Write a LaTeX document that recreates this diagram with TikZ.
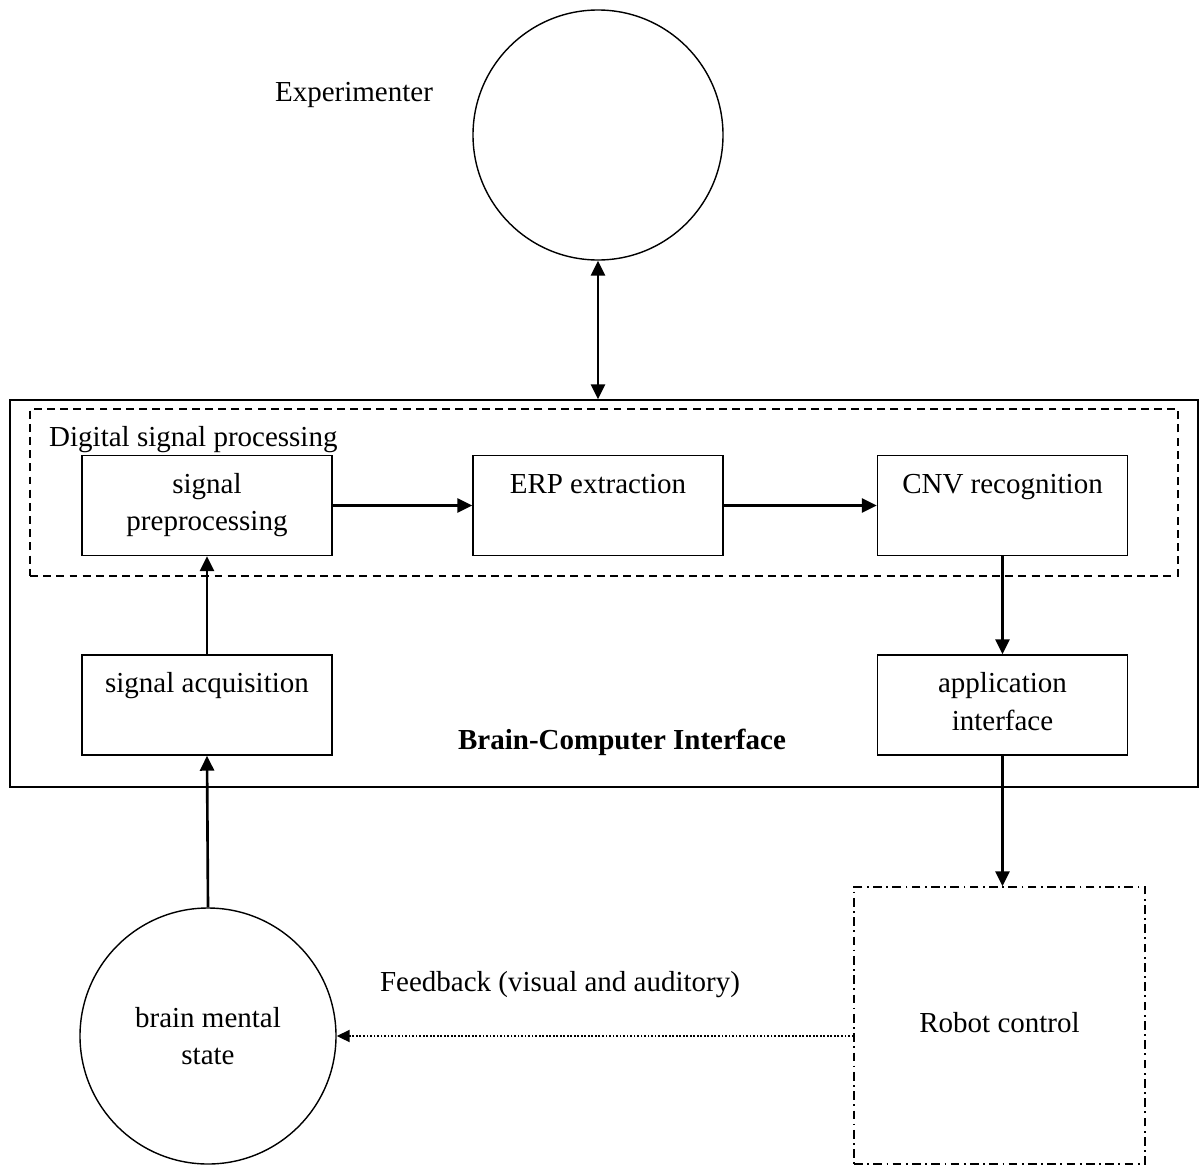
\documentclass[tikz,border=0pt]{standalone}
\usepackage{fontspec}
\setmainfont{Liberation Serif}
\usetikzlibrary{arrows.meta}

% text placed at the top of a block
\newcommand{\toptext}[1]{\parbox[c][2cm][t]{5cm}{\centering\rule{0pt}{0.75cm}#1}}

\begin{document}
\begin{tikzpicture}[>={Triangle[length=0.3cm,width=0.28cm]}, line cap=butt, line join=miter]

% --- Global TikZ Styles for Consistency ---
\tikzset{
    every node/.style={
        font=\fontsize{16.5}{21.5}\selectfont
    },
    block/.style={
        draw=black,
        line width=0.8pt,
        inner sep=0pt,
        minimum width=5cm,
        minimum height=2cm
    },
    bigcircle/.style={
        draw=black,
        circle,
        line width=0.8pt,
        align=center
    },
    flow/.style={
        ->,
        line width=1.5pt
    },
    feedback/.style={
        -{Triangle[length=0.26cm,width=0.24cm]},
        line width=1.1pt,
        dash pattern=on 1pt off 1pt
    }
}

\useasboundingbox (0,0) rectangle (24.02,-23.32);

% =========================================================================
% --- Experimenter ---
% =========================================================================
\node[bigcircle, minimum size=5cm] (expr) at (11.96,-2.7) {};
\node (exprlabel) at (7.08,-1.9) {Experimenter};

% =========================================================================
% --- Brain-Computer Interface ---
% =========================================================================
\node[draw, line width=0.8pt, minimum width=23.76cm, minimum height=7.74cm] (bci) at (12.08,-11.87) {};
\node[draw, line width=0.8pt, dash pattern=on 4.5pt off 3pt, minimum width=22.96cm, minimum height=3.34cm] (dsp) at (12.08,-9.85) {};
\node[anchor=west] (dsplabel) at (0.86,-8.8) {Digital signal processing};

% --- Blocks ---
\node[block] (preproc) at (4.14,-10.11) {\toptext{signal\\preprocessing}};
\node[block] (erp) at (11.96,-10.11) {\toptext{ERP extraction}};
\node[block] (cnv) at (20.05,-10.11) {\toptext{CNV recognition}};
\node[block] (acq) at (4.14,-14.1) {\toptext{signal acquisition}};
\node[block] (app) at (20.05,-14.1) {\toptext{application\\interface}};

\node[font=\fontsize{16.5}{21.5}\selectfont\bfseries] (bcilabel) at (12.44,-14.84) {Brain-Computer Interface};

% =========================================================================
% --- Outside the interface ---
% =========================================================================
\node[bigcircle, minimum size=5.12cm] (brain) at (4.16,-20.72) {brain mental\\state};
\node[draw, line width=0.8pt, dash pattern=on 5pt off 2.5pt on 1pt off 2.5pt, minimum width=5.82cm, minimum height=5.54cm] (robot) at (19.99,-20.51) {\raisebox{0.14cm}{Robot control}};
\node (fblabel) at (11.2,-19.7) {Feedback (visual and auditory)};

% --- Arrows ---
\draw[flow, <->] (expr.south) -- (expr.south |- bci.north);
\draw[flow] (preproc.east) -- (erp.west);
\draw[flow] (erp.east) -- (cnv.west);
\draw[flow] (cnv.south) -- (app.north);
\draw[flow] (acq.north) -- (preproc.south);
\draw[flow] (brain.north) -- (acq.south);
\draw[flow] (app.south) -- (app.south |- robot.north);
\draw[feedback] (robot.west |- brain.east) -- (brain.east);

\end{tikzpicture}
\end{document}
